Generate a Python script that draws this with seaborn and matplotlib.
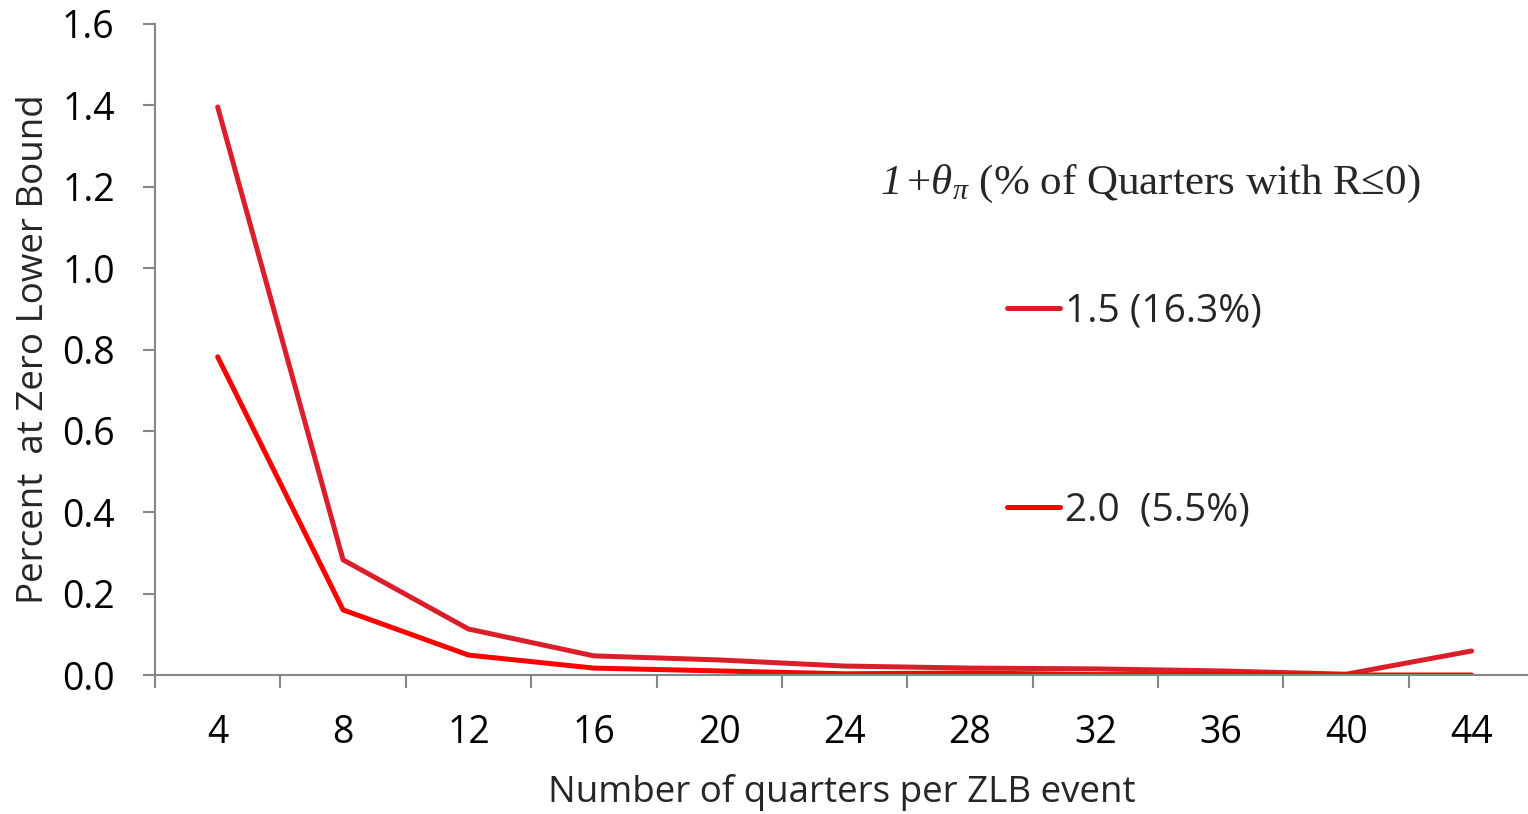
import matplotlib
matplotlib.use("Agg")
import matplotlib.pyplot as plt
import seaborn as sns
import pandas as pd
import numpy as np

quarters = [4, 8, 12, 16, 20, 24, 28, 32, 36, 40, 44]
series_15 = [1.396, 0.283, 0.113, 0.047, 0.037, 0.022, 0.017, 0.015, 0.010, 0.002, 0.059]
series_20 = [0.782, 0.160, 0.049, 0.017, 0.010, 0.003, 0.005, 0.001, 0.001, 0.000, 0.000]
labels = ["1.5 (16.3%)", "2.0  (5.5%)"]
colors = ["#DA1F2B", "#FF0000"]
yticks = [0.0, 0.2, 0.4, 0.6, 0.8, 1.0, 1.2, 1.4, 1.6]

df = pd.DataFrame({
    "quarters": quarters * 2,
    "pct": series_15 + series_20,
    "theta": [labels[0]] * len(quarters) + [labels[1]] * len(quarters),
})

sns.set_theme(style="white")
plt.rcParams["font.family"] = ["Open Sans", "DejaVu Sans"]
plt.rcParams["mathtext.fontset"] = "custom"
plt.rcParams["mathtext.rm"] = "Liberation Serif"
plt.rcParams["mathtext.it"] = "Liberation Serif:italic"
plt.rcParams["mathtext.bf"] = "Liberation Serif:bold"
plt.rcParams["mathtext.cal"] = "Liberation Serif:italic"

fig = plt.figure(figsize=(15.28, 8.14), dpi=100)
ax = fig.add_axes([155 / 1528, 1 - 675 / 814, 1373 / 1528, (675 - 24) / 814])

sns.lineplot(data=df, x="quarters", y="pct", hue="theta", hue_order=labels,
             palette=colors, linewidth=3.6, solid_capstyle="round", ax=ax,
             estimator=None, sort=True)

ax.set_xlim(2, 45.8)
ax.set_ylim(0, 1.6)
ax.set_xticks(quarters)
ax.set_xticklabels([str(q) for q in quarters])
ax.set_xticks(np.arange(2, 45, 4), minor=True)
ax.set_yticks(yticks)
ax.set_yticklabels([f"{v:.1f}" for v in yticks])

gray = "#868686"
for side in ["top", "right"]:
    ax.spines[side].set_visible(False)
for side in ["left", "bottom"]:
    ax.spines[side].set_color(gray)
    ax.spines[side].set_linewidth(1.5)

ax.tick_params(axis="x", which="major", length=0, pad=28, labelsize=27, colors="black")
ax.tick_params(axis="x", which="minor", length=9, width=1.5, color=gray, direction="out", bottom=True)
ax.tick_params(axis="y", which="major", length=9, width=1.5, color=gray, direction="out",
               pad=20, labelsize=27, labelcolor="black", left=True)

ax.set_xlabel("Number of quarters per ZLB event", fontsize=26.5, labelpad=16)
ax.set_ylabel("Percent  at Zero Lower Bound", fontsize=26.5, labelpad=7)

handles, lbls = ax.get_legend_handles_labels()
for h in handles:
    h.set_solid_capstyle("round")
ax.legend(handles, lbls, loc="center left",
          bbox_to_anchor=((1007 - 155) / 1373, (675 - 411) / 651),
          frameon=False, fontsize=28, borderpad=0, borderaxespad=0,
          handlelength=1.36, handletextpad=0.13, labelspacing=4.12)

fig.text(880 / 1528, 1 - 184 / 814,
         r"$\mathcal{1}\,$+$\mathit{\theta}_{\mathit{\pi}}$ (% of Quarters with R≤0)",
         fontsize=31, family=["Liberation Serif", "DejaVu Serif"],
         ha="left", va="center")

fig.savefig("out.png", dpi=100)
